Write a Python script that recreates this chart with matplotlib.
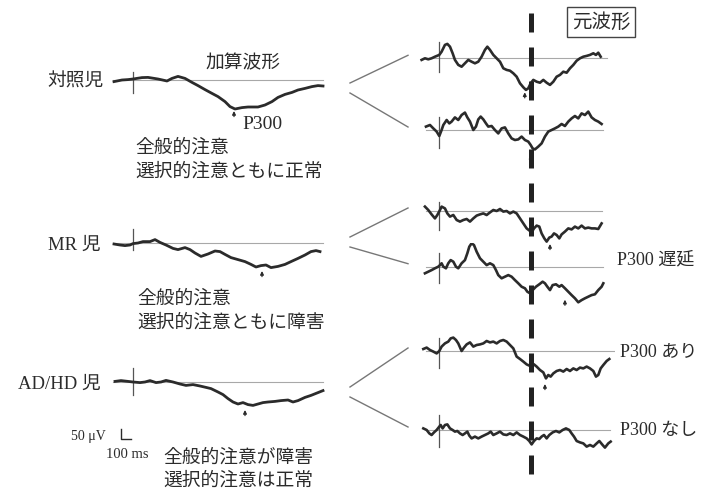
import numpy as np
import matplotlib
matplotlib.use("Agg")
import matplotlib.pyplot as plt

W, H = 705, 490
JP = ["Noto Sans CJK JP", "DejaVu Sans"]
MIX = ["Liberation Serif", "Noto Sans CJK JP", "DejaVu Sans"]
SERIF = ["Liberation Serif", "DejaVu Serif"]
INK = "#2b2b2b"
GRID = "#a8a8a8"

# ---------------- averaged ERP waveforms (ms from onset, µV) ----------------
ctrl_avg_t = [-190, -110, -50, 0, 90, 150, 250, 340, 390, 450, 520, 590, 650, 720, 790,
              850, 920, 970, 1020, 1090, 1150, 1250, 1320, 1390, 1450, 1520, 1590, 1650,
              1720, 1790, 1850, 1900]
ctrl_avg_v = [-8, 0, 2, 5, 12, 13, 5, -5, 8, 18, 8, -12, -28, -48, -67,
              -83, -108, -133, -145, -138, -135, -135, -125, -108, -87, -72, -62, -50,
              -42, -33, -28, -30]

mr_avg_t = [-190, -130, -80, -30, 0, 50, 100, 170, 220, 270, 330, 400, 450, 520, 570,
            620, 680, 750, 820, 870, 920, 980, 1050, 1120, 1180, 1230, 1280, 1330, 1380,
            1450, 1520, 1580, 1650, 1720, 1780, 1830, 1870]
mr_avg_v = [-5, -10, -13, -10, -3, 0, 7, 7, 17, 3, -10, -27, -33, -23, -33,
            -50, -67, -55, -40, -43, -57, -73, -83, -93, -107, -120, -113, -110, -123,
            -117, -107, -93, -77, -60, -43, -38, -43]

adhd_avg_t = [-180, -120, -50, 0, 70, 120, 170, 230, 280, 330, 400, 470, 530, 600, 670,
              730, 780, 850, 900, 950, 1000, 1050, 1100, 1150, 1200, 1250, 1300, 1350,
              1420, 1480, 1550, 1600, 1650, 1720, 1780, 1850, 1900]
adhd_avg_v = [3, 7, 3, 0, -3, 0, 7, -3, 0, 8, 0, -10, -17, -13, -20,
              -27, -33, -50, -63, -83, -100, -110, -103, -113, -117, -110, -103, -100,
              -97, -93, -90, -100, -93, -77, -67, -53, -43]

# ---------------- single-trial (raw) waveforms ----------------
ctrl_raw1_t = [-207, -168, -129, -90, -51, 0, 27, 66, 94, 125, 156, 183, 222, 261, 300,
               339, 378, 417, 456, 495, 534, 562, 593, 632, 671, 710, 749, 788, 827, 866,
               905, 944, 983, 1014, 1041, 1069, 1100, 1139, 1178, 1217, 1256, 1295, 1334,
               1373, 1412, 1451, 1490, 1529, 1568, 1607, 1646, 1685, 1724, 1763, 1802,
               1833, 1860, 1888]
ctrl_raw1_v = [-8, 0, -5, 0, 8, 17, 33, 67, 72, 58, 25, -8, -33, -42, -25,
               -8, -17, -25, -17, 8, 42, 58, 42, 17, 0, -17, -50, -58, -62, -75,
               -92, -125, -145, -158, -150, -125, -108, -117, -122, -108, -122, -133, -117,
               -92, -83, -67, -72, -50, -33, -12, 0, 8, 12, 17, 25,
               17, 28, 8]

ctrl_raw2_t = [-156, -109, -70, -31, 0, 27, 47, 86, 117, 144, 183, 222, 261, 300, 328,
               359, 398, 429, 456, 484, 515, 546, 573, 612, 651, 690, 729, 768, 807, 846,
               885, 924, 963, 1002, 1041, 1069, 1092, 1119, 1158, 1197, 1236, 1275, 1314,
               1353, 1392, 1431, 1470, 1509, 1548, 1587, 1626, 1665, 1704, 1743, 1782,
               1821, 1860, 1899]
ctrl_raw2_v = [17, 25, 8, -8, -30, 0, 25, 50, 33, 42, 63, 50, 75, 87, 63,
               42, 0, 17, 53, 67, 53, 33, 17, 20, 0, -17, 8, 13, -17, -42,
               -50, -47, -33, -50, -58, -75, -92, -97, -83, -67, -33, -8, 0,
               8, 17, 30, 20, 42, 58, 70, 58, 83, 75, 92, 63,
               50, 42, 30]

mr_raw1_t = [-168, -129, -90, -51, -23, 8, 27, 66, 94, 125, 164, 203, 242, 281, 320,
             359, 398, 437, 476, 515, 554, 593, 632, 671, 710, 749, 788, 827, 866, 905,
             944, 983, 1022, 1061, 1080, 1108, 1139, 1170, 1197, 1229, 1256, 1287, 1314,
             1342, 1373, 1404, 1431, 1470, 1509, 1548, 1587, 1626, 1665, 1704, 1743,
             1782, 1821, 1860, 1899]
mr_raw1_v = [22, 5, -17, -37, -20, 5, 22, 13, -12, -28, -20, -45, -53, -45, -40,
             -53, -37, -23, -17, -12, -20, -7, 5, 0, 10, -3, 0, -12, -3, -12,
             -37, -62, -87, -100, -107, -87, -73, -78, -112, -137, -153, -133, -128,
             -112, -120, -137, -117, -103, -87, -92, -78, -87, -73, -87, -83,
             -87, -87, -90, -62]

mr_raw2_t = [-168, -129, -90, -51, -12, 8, 27, 47, 78, 105, 133, 164, 195, 222, 261,
             300, 328, 351, 378, 406, 437, 476, 515, 554, 593, 632, 663, 690, 729, 768,
             807, 846, 885, 924, 963, 1002, 1030, 1061, 1092, 1131, 1170, 1209, 1236,
             1264, 1295, 1326, 1365, 1404, 1431, 1470, 1509, 1548, 1587, 1626, 1665,
             1704, 1743, 1782, 1821, 1860, 1899, 1919]
mr_raw2_v = [-33, -25, -17, -8, 0, 8, 17, 0, -8, 17, 33, 25, 0, -8, 17,
             33, 67, 100, 117, 108, 75, 42, 25, 8, 17, 8, -17, -42, -58, -50,
             -42, -50, -67, -83, -100, -108, -125, -133, -117, -100, -88, -75, -83,
             -100, -117, -92, -88, -100, -92, -108, -125, -142, -158, -178, -167,
             -158, -150, -142, -138, -117, -100, -83]

adhd_raw1_t = [-187, -148, -109, -70, -31, 0, 27, 66, 105, 133, 164, 195, 222, 261, 289,
               320, 359, 398, 437, 476, 515, 554, 593, 632, 671, 710, 749, 788, 827, 866,
               905, 944, 983, 1022, 1053, 1080, 1108, 1139, 1178, 1217, 1248, 1275, 1303,
               1334, 1373, 1412, 1451, 1490, 1529, 1568, 1607, 1646, 1685, 1724, 1763,
               1802, 1833, 1860, 1888, 1919, 1958, 1989]
adhd_raw1_v = [10, 17, 5, -3, -12, 0, 22, 38, 47, 63, 67, 55, 38, 0, 17,
               33, 43, 22, 30, 33, 38, 50, 43, 47, 38, 50, 55, 47, 30, 13,
               -28, -40, -53, -67, -73, -62, -67, -78, -95, -107, -137, -120, -128,
               -112, -100, -95, -103, -90, -100, -87, -95, -83, -87, -78, -87,
               -100, -128, -120, -87, -70, -50, -40]

adhd_raw2_t = [-187, -148, -117, -90, -62, -31, 0, 16, 39, 66, 94, 125, 156, 183, 211,
               242, 273, 300, 328, 351, 378, 417, 456, 495, 534, 573, 601, 632, 671, 710,
               749, 788, 827, 866, 905, 944, 983, 1022, 1053, 1080, 1108, 1139, 1170,
               1197, 1225, 1256, 1287, 1326, 1365, 1404, 1443, 1482, 1521, 1548, 1576,
               1607, 1646, 1685, 1724, 1763, 1802, 1841, 1872, 1911, 1938, 1977, 2005]
adhd_raw2_v = [8, 0, -17, -25, -12, 0, 17, 25, 8, 25, 28, 8, 0, -8, -5,
               -17, -25, -17, -8, -28, -42, -33, -42, -33, -25, -17, -8, -25, -17, -8,
               -22, -25, -17, -25, -12, -25, -33, -42, -55, -72, -55, -42, -45,
               -33, -25, -42, -25, -12, -5, -12, 0, 8, 0, -17, -33,
               -55, -62, -67, -83, -75, -83, -67, -55, -75, -88, -67, -58]

# P300 latency marks (ms, µV at arrow tip); None = no P300
avg_p300 = [(1010, -155), (1290, -140), (1120, -140)]
raw_p300 = [(1000, -170), (1070, -125), (1295, -165), (1470, -165), (1236, -165), None]

# stimulus-onset tick extents (µV above, below baseline)
avg_onset = [(40, -65), (70, -35), (70, -65)]
raw_onset = [(83, -67), (67, -92), (47, -95), (67, -83), (63, -87), (75, -83)]

group_labels = ["対照児", "MR 児", "AD/HD 児"]
group_notes = [["全般的注意", "選択的注意ともに正常"],
               ["全般的注意", "選択的注意ともに障害"],
               ["全般的注意が障害", "選択的注意は正常"]]
raw_notes = [None, None, None, "P300 遅延", "P300 あり", "P300 なし"]

T_DASH = 1075          # latency marker shared by the single trials
SCALE_UV, SCALE_MS = 50, 100

avg_sets = [(ctrl_avg_t, ctrl_avg_v), (mr_avg_t, mr_avg_v), (adhd_avg_t, adhd_avg_v)]
raw_sets = [(ctrl_raw1_t, ctrl_raw1_v), (ctrl_raw2_t, ctrl_raw2_v),
            (mr_raw1_t, mr_raw1_v), (mr_raw2_t, mr_raw2_v),
            (adhd_raw1_t, adhd_raw1_v), (adhd_raw2_t, adhd_raw2_v)]

# ---------------- layout (pixels) ----------------
UV_PER_PX = 5.0
AVG_MS_PER_PX, RAW_MS_PER_PX = 10.0, 11.7
AVG_ONSET_X, RAW_ONSET_X = 133, 439.3
AVG_T, RAW_T = (-250, 1950), (-250, 2050)
AVG_V, RAW_V = (-220, 100), (-220, 120)
avg_base_y = [80, 243, 382]
raw_base_y = [58.3, 130, 211, 266.7, 351, 430]
avg_base_span = (-200, 1900)
raw_base_end = [1960, 1920, 1900, 1910, 2040, 2000]

fig = plt.figure(figsize=(W / 100, H / 100), dpi=100)
fig.patch.set_facecolor("white")


def rect(left, top, width, height):
    return [left / W, 1 - (top + height) / H, width / W, height / H]


def panel(onset_x, base_y, t_lim, v_lim, ms_per_px):
    left = onset_x + t_lim[0] / ms_per_px
    width = (t_lim[1] - t_lim[0]) / ms_per_px
    top = base_y - v_lim[1] / UV_PER_PX
    height = (v_lim[1] - v_lim[0]) / UV_PER_PX
    ax = fig.add_axes(rect(left, top, width, height))
    ax.set_xlim(*t_lim)
    ax.set_ylim(*v_lim)
    ax.axis("off")
    return ax


def draw_trace(ax, t, v, base, onset, p300, lw):
    ax.plot(base, [0, 0], color=GRID, lw=0.8, zorder=1)
    ax.plot([0, 0], list(onset), color="#555555", lw=0.9, zorder=2)
    ax.plot(t, v, color=INK, lw=lw, solid_joinstyle="round", zorder=3)
    if p300 is not None:
        lat, tip = p300
        ax.annotate("", xy=(lat, tip), xytext=(lat, tip - 28),
                    arrowprops=dict(arrowstyle="-|>", color=INK, lw=0.9,
                                    mutation_scale=5, shrinkA=0, shrinkB=0))


for (t, v), by, on, p in zip(avg_sets, avg_base_y, avg_onset, avg_p300):
    ax = panel(AVG_ONSET_X, by, AVG_T, AVG_V, AVG_MS_PER_PX)
    draw_trace(ax, t, v, avg_base_span, on, p, 2.0)

for (t, v), by, on, p, be in zip(raw_sets, raw_base_y, raw_onset, raw_p300, raw_base_end):
    ax = panel(RAW_ONSET_X, by, RAW_T, RAW_V, RAW_MS_PER_PX)
    draw_trace(ax, t, v, (-150, be), on, p, 1.9)

# calibration bar
cal = panel(121, 439, (-50, 150), (-25, 75), AVG_MS_PER_PX)
cal.plot([0, 0, SCALE_MS], [SCALE_UV, 0, 0], color=INK, lw=1.0)

# overlay in pixel space for connectors and text
ov = fig.add_axes([0, 0, 1, 1])
ov.set_xlim(0, W)
ov.set_ylim(H, 0)
ov.axis("off")

fork_y = [88, 242, 392]
for i, fy in enumerate(fork_y):
    for dy, ty in ((-5, raw_base_y[2 * i] - 3), (5, raw_base_y[2 * i + 1] - 3)):
        ov.plot([350, 408], [fy + dy, ty], color="#777777", lw=1.0)

# shared latency marker across the single trials
dash_ax = fig.add_axes(rect(RAW_ONSET_X + RAW_T[0] / RAW_MS_PER_PX, 0,
                            (RAW_T[1] - RAW_T[0]) / RAW_MS_PER_PX, H))
dash_ax.set_xlim(*RAW_T)
dash_ax.set_ylim(H, 0)
dash_ax.axis("off")
dash_ax.plot([T_DASH, T_DASH], [13, 476], color="#222222", lw=3.6,
             dashes=(3.8, 3.0), solid_capstyle="butt")

label_kw = dict(color=INK, va="center")
for lab, by, x in zip(group_labels, avg_base_y, [104, 101, 101]):
    ov.text(x, by + 2, lab, ha="right", fontsize=13.5, family=MIX, **label_kw)

ov.text(243, 63, "加算波形", ha="center", fontsize=13.5, family=JP, **label_kw)
ov.text(242, 124, "P300", ha="left", fontsize=14, family=SERIF, **label_kw)

note_pos = [(135, 147, 171), (137, 298, 322), (163, 457, 480)]
for lines, (x, y1, y2) in zip(group_notes, note_pos):
    ov.text(x, y1, lines[0], ha="left", fontsize=13.5, family=JP, **label_kw)
    ov.text(x, y2, lines[1], ha="left", fontsize=13.5, family=JP, **label_kw)

ov.text(106, 436, "50 μV", ha="right", fontsize=10, family=SERIF, **label_kw)
ov.text(106, 454, "100 ms", ha="left", fontsize=10.5, family=SERIF, **label_kw)

ov.text(601, 22, "元波形", ha="center", fontsize=14, family=JP, color=INK, va="center",
        bbox=dict(boxstyle="square,pad=0.25", fc="white", ec="#444444", lw=1.0))

note_xy = [None, None, None, (617, 260), (620, 353), (620, 430)]
for note, xy in zip(raw_notes, note_xy):
    if note:
        ov.text(xy[0], xy[1], note, ha="left", fontsize=13, family=MIX, **label_kw)

fig.savefig("out.png", dpi=100, facecolor="white")
